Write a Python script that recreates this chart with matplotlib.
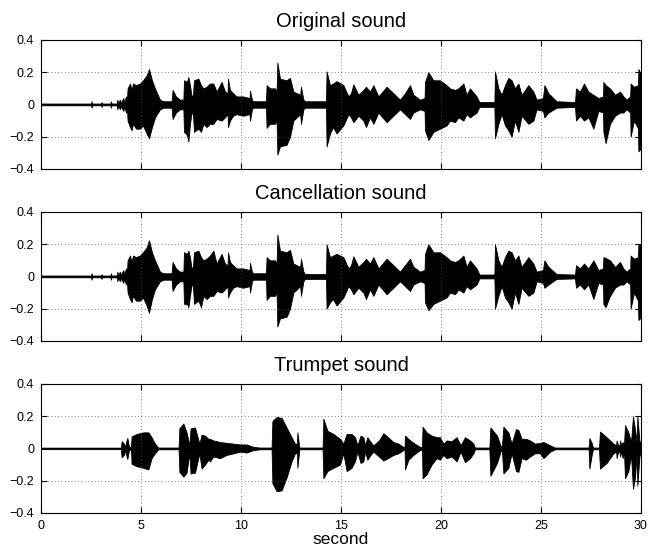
import numpy as np
import matplotlib.pyplot as plt

plt.rcParams['font.family'] = ['Liberation Sans', 'DejaVu Sans']

# envelopes: time (s), upper and lower amplitude
t_orig = [0, 2.5, 2.53, 2.56, 3.0, 3.03, 3.06, 3.47, 3.5, 3.53,
          3.79, 3.82, 3.86, 3.95, 3.99, 4.12, 4.16, 4.25, 4.3, 4.33,
          4.45, 4.53, 4.6, 4.75, 4.95, 5.1, 5.28, 5.4, 5.55, 5.7,
          5.95, 6.12, 6.53, 6.58, 6.75, 6.95, 7.12, 7.15, 7.3, 7.37,
          7.45, 7.53, 7.6, 7.65, 7.87, 8.0, 8.12, 8.28, 8.45, 8.62,
          8.78, 9.03, 9.2, 9.33, 9.35, 9.45, 9.6, 9.78, 10.1, 10.43,
          10.45, 10.55, 10.6, 11.25, 11.28, 11.45, 11.7, 11.78, 11.82, 11.95,
          12.28, 12.45, 12.62, 12.96, 13.0, 13.12, 13.2, 14.25, 14.28, 14.45,
          14.6, 14.78, 15.12, 15.37, 15.5, 15.62, 15.87, 16.12, 16.25, 16.45,
          16.62, 16.87, 17.28, 17.62, 17.95, 18.2, 18.45, 18.62, 18.95, 19.18,
          19.2, 19.37, 19.62, 19.95, 20.28, 20.45, 20.7, 20.87, 21.12, 21.28,
          21.45, 21.78, 21.92, 22.67, 22.7, 22.87, 23.03, 23.2, 23.37, 23.53,
          23.7, 23.87, 24.03, 24.37, 24.62, 24.78, 25.1, 25.17, 25.37, 25.78,
          26.7, 26.75, 26.95, 27.15, 27.37, 27.62, 27.87, 28.1, 28.12, 28.23,
          28.45, 28.7, 28.95, 29.12, 29.28, 29.46, 29.48, 29.65, 29.85, 29.87,
          29.95, 30]
hi_orig = [.005, .005, .02, .005, .005, .015, .005, .005, .02, .005,
           .006, .03, .008, .03, .01, .04, .01, .05, .03, .1,
           .13, .09, .13, .12, .13, .15, .18, .22, .15, .1,
           .03, .02, .02, .09, .05, .03, .03, .15, .14, .17,
           .12, .05, .06, .15, .16, .12, .1, .11, .13, .13,
           .08, .14, .08, .07, .16, .09, .07, .05, .05, .04,
           .085, .03, .02, .02, .12, .1, .1, .08, .26, .16,
           .15, .165, .08, .06, .11, .03, .02, .02, .205, .12,
           .13, .145, .12, .05, .07, .125, .06, .09, .11, .08,
           .12, .05, .11, .07, .03, .07, .12, .06, .03, .04,
           .14, .2, .15, .15, .12, .1, .09, .1, .13, .06,
           .1, .05, .015, .015, .205, .1, .06, .12, .165, .15,
           .1, .13, .06, .12, .08, .03, .04, .12, .07, .02,
           .015, .1, .08, .13, .08, .06, .04, .05, .14, .12,
           .1, .06, .08, .05, .03, .05, .13, .11, .12, .22,
           .2, .2]
lo_orig = [-.005, -.005, -.02, -.005, -.005, -.015, -.005, -.005, -.02, -.005,
           -.006, -.03, -.008, -.03, -.01, -.04, -.01, -.05, -.03, -.1,
           -.14, -.16, -.12, -.15, -.15, -.13, -.18, -.21, -.14, -.08,
           -.03, -.02, -.02, -.09, -.05, -.03, -.03, -.17, -.19, -.23,
           -.12, -.05, -.06, -.17, -.15, -.17, -.12, -.14, -.12, -.12,
           -.09, -.1, -.08, -.06, -.14, -.1, -.07, -.06, -.07, -.06,
           -.1, -.03, -.02, -.02, -.145, -.12, -.12, -.1, -.31, -.26,
           -.25, -.2, -.1, -.06, -.12, -.03, -.02, -.02, -.26, -.18,
           -.14, -.18, -.13, -.06, -.08, -.11, -.07, -.1, -.14, -.08,
           -.12, -.05, -.11, -.07, -.03, -.06, -.09, -.05, -.03, -.04,
           -.16, -.22, -.17, -.15, -.13, -.1, -.11, -.08, -.1, -.06,
           -.08, -.05, -.015, -.015, -.21, -.12, -.06, -.13, -.16, -.2,
           -.1, -.17, -.07, -.12, -.1, -.03, -.04, -.08, -.05, -.02,
           -.015, -.1, -.07, -.1, -.08, -.15, -.04, -.05, -.17, -.24,
           -.12, -.07, -.05, -.05, -.03, -.05, -.2, -.1, -.15, -.29,
           -.28, -.2]

t_canc = t_orig
hi_canc = [.005, .005, .02, .005, .005, .015, .005, .005, .02, .005,
           .006, .03, .008, .03, .01, .04, .01, .05, .03, .1,
           .13, .09, .13, .12, .13, .15, .18, .225, .15, .1,
           .03, .02, .02, .09, .05, .03, .03, .15, .14, .16,
           .12, .05, .06, .15, .16, .12, .1, .11, .13, .16,
           .08, .14, .08, .07, .15, .09, .07, .05, .05, .04,
           .085, .03, .02, .02, .12, .1, .1, .08, .26, .16,
           .15, .165, .08, .06, .11, .03, .015, .015, .2, .12,
           .13, .14, .12, .05, .07, .125, .06, .09, .11, .08,
           .12, .05, .11, .07, .03, .07, .11, .06, .03, .04,
           .14, .2, .15, .15, .12, .1, .09, .1, .13, .06,
           .1, .05, .012, .012, .2, .1, .06, .12, .16, .15,
           .1, .13, .06, .12, .08, .03, .04, .1, .06, .015,
           .012, .07, .05, .08, .05, .1, .04, .05, .12, .115,
           .1, .06, .09, .05, .03, .05, .13, .11, .12, .2,
           .2, .2]
lo_canc = [-.005, -.005, -.02, -.005, -.005, -.015, -.005, -.005, -.02, -.005,
           -.006, -.03, -.008, -.03, -.01, -.04, -.01, -.05, -.03, -.1,
           -.14, -.16, -.12, -.15, -.15, -.13, -.18, -.225, -.14, -.08,
           -.03, -.02, -.02, -.09, -.05, -.03, -.03, -.17, -.17, -.19,
           -.12, -.05, -.06, -.17, -.15, -.19, -.12, -.14, -.12, -.12,
           -.09, -.1, -.08, -.06, -.13, -.1, -.07, -.06, -.07, -.06,
           -.1, -.03, -.02, -.02, -.145, -.12, -.12, -.1, -.31, -.26,
           -.25, -.2, -.1, -.06, -.12, -.03, -.015, -.015, -.2, -.16,
           -.14, -.18, -.13, -.06, -.08, -.11, -.07, -.1, -.14, -.08,
           -.12, -.05, -.11, -.07, -.03, -.06, -.09, -.05, -.03, -.04,
           -.16, -.21, -.17, -.15, -.13, -.1, -.11, -.08, -.1, -.06,
           -.08, -.05, -.012, -.012, -.2, -.12, -.06, -.13, -.16, -.2,
           -.1, -.17, -.07, -.12, -.1, -.03, -.04, -.07, -.05, -.015,
           -.012, -.07, -.05, -.08, -.05, -.14, -.04, -.05, -.17, -.19,
           -.12, -.07, -.05, -.05, -.03, -.05, -.2, -.1, -.15, -.27,
           -.26, -.2]

t_trum = [0, 4.0, 4.03, 4.15, 4.2, 4.28, 4.32, 4.4, 4.5, 4.53,
          4.78, 5.12, 5.37, 5.53, 5.7, 5.87, 6.88, 6.92, 7.12, 7.28,
          7.42, 7.48, 7.7, 7.92, 8.03, 8.2, 8.37, 8.45, 8.62, 8.95,
          9.28, 9.62, 9.95, 10.28, 10.62, 10.95, 11.53, 11.57, 11.78, 12.03,
          12.28, 12.53, 12.7, 12.8, 12.82, 12.92, 14.08, 14.12, 14.32, 14.62,
          14.95, 15.12, 15.28, 15.53, 15.7, 15.82, 15.98, 16.12, 16.2, 16.32,
          16.48, 16.62, 16.9, 17.12, 17.35, 17.62, 17.87, 18.12, 18.18, 18.2,
          18.37, 18.62, 18.95, 19.05, 19.08, 19.28, 19.53, 19.78, 19.95, 20.12,
          20.28, 20.53, 20.78, 20.98, 21.2, 21.45, 21.62, 21.7, 22.42, 22.47,
          22.8, 23.0, 23.05, 23.12, 23.37, 23.53, 23.75, 23.87, 24.03, 24.25,
          24.45, 24.7, 24.95, 25.12, 25.45, 25.7, 27.38, 27.42, 27.55, 27.6,
          27.9, 27.95, 28.28, 28.62, 28.76, 28.78, 28.86, 28.93, 28.95, 29.02,
          29.08, 29.15, 29.2, 29.37, 29.5, 29.6, 29.7, 29.78, 29.82, 29.92,
          30]
hi_trum = [.004, .004, .045, .03, .01, .05, .065, .01, .01, .075,
           .09, .1, .1, .07, .03, .005, .005, .125, .155, .1,
           .02, .125, .13, .03, .085, .08, .06, .06, .05, .04,
           .035, .03, .025, .025, .01, .005, .005, .17, .195, .19,
           .13, .07, .03, .03, .1, .005, .005, .185, .11, .09,
           .06, .03, .09, .09, .07, .02, .08, .07, .02, .07,
           .04, .02, .05, .095, .07, .04, .03, .01, .01, .08,
           .06, .035, .01, .01, .135, .1, .08, .07, .07, .03,
           .05, .045, .07, .02, .07, .05, .03, .005, .005, .13,
           .08, .01, .02, .135, .1, .03, .12, .115, .06, .06,
           .05, .03, .035, .04, .02, .005, .005, .065, .03, .005,
           .005, .105, .07, .03, .02, .05, .02, .02, .05, .02,
           .04, .02, .145, .1, .04, .2, .12, .04, .2, .05,
           .02]
lo_trum = [-.004, -.004, -.055, -.04, -.01, -.05, -.065, -.01, -.01, -.095,
           -.11, -.12, -.13, -.06, -.03, -.005, -.005, -.145, -.175, -.15,
           -.03, -.155, -.15, -.03, -.125, -.1, -.07, -.08, -.05, -.06,
           -.04, -.03, -.02, -.025, -.01, -.005, -.005, -.215, -.265, -.26,
           -.18, -.08, -.03, -.03, -.12, -.005, -.005, -.185, -.14, -.12,
           -.1, -.03, -.14, -.12, -.08, -.02, -.09, -.08, -.02, -.07,
           -.04, -.02, -.05, -.075, -.06, -.04, -.03, -.01, -.01, -.13,
           -.07, -.04, -.01, -.01, -.185, -.16, -.1, -.06, -.07, -.04,
           -.06, -.05, -.08, -.02, -.085, -.06, -.03, -.005, -.005, -.17,
           -.09, -.01, -.02, -.155, -.12, -.03, -.14, -.145, -.06, -.07,
           -.05, -.03, -.03, -.06, -.02, -.005, -.005, -.125, -.03, -.005,
           -.005, -.125, -.09, -.03, -.02, -.06, -.02, -.02, -.05, -.02,
           -.06, -.02, -.185, -.14, -.04, -.25, -.18, -.04, -.23, -.05,
           -.02]

titles = ['Original sound', 'Cancellation sound', 'Trumpet sound']
yticks = [-0.4, -0.2, 0, 0.2, 0.4]
ytick_labels = ['\u22120.4', '\u22120.2', '0', '0.2', '0.4']
xticks = [0, 5, 10, 15, 20, 25, 30]

fig = plt.figure(figsize=(6.63, 5.49), dpi=100)
bottoms = [0.6922, 0.3789, 0.0656]
series = [(t_orig, hi_orig, lo_orig), (t_canc, hi_canc, lo_canc), (t_trum, hi_trum, lo_trum)]

for i in range(3):
    ax = fig.add_axes([0.0618, bottoms[i], 0.905, 0.235])
    t, hi, lo = series[i]
    ax.fill_between(t, lo, hi, color='black', linewidth=0.6)
    ax.plot(t, np.zeros(len(t)), color='black', linewidth=1.0)
    ax.set_xlim(0, 30)
    ax.set_ylim(-0.4, 0.4)
    ax.set_yticks(yticks)
    ax.set_yticklabels(ytick_labels)
    ax.set_xticks(xticks)
    if i < 2:
        ax.set_xticklabels([])
    ax.grid(True, linestyle=(0, (1, 3)), color='0.35', linewidth=0.6)
    ax.tick_params(direction='in', top=True, right=True, length=4, width=0.8,
                   labelsize=9, pad=5)
    for s in ax.spines.values():
        s.set_linewidth(0.8)
    ax.set_title(titles[i], fontsize=14.5, pad=9)
    if i == 2:
        ax.set_xlabel('second', fontsize=12.5, labelpad=0)

plt.savefig('out.png', dpi=100)
